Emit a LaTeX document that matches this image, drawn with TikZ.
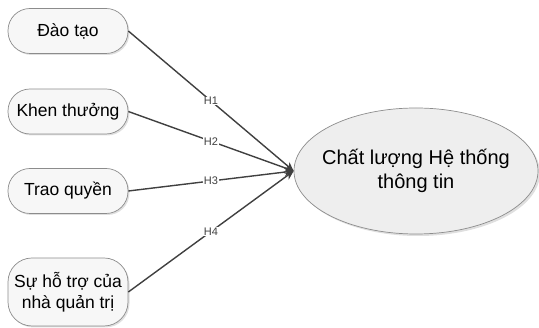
\documentclass[tikz,border=0pt]{standalone}
\usepackage{fontspec}
\setmainfont{Liberation Sans}
\usetikzlibrary{arrows.meta,shadows,shapes.geometric}
\definecolor{edgegray}{HTML}{8C8C8C}
\definecolor{linegray}{HTML}{404040}
\definecolor{boxfill}{HTML}{F7F7F7}
\definecolor{ellfill}{HTML}{EEEEEE}
\tikzset{
  factor/.style={draw=edgegray, line width=0.7pt, fill=boxfill, rounded corners=22pt,
    minimum width=120pt, minimum height=45pt, align=center, inner sep=1pt,
    font=\fontsize{17.5}{21}\selectfont,
    drop shadow={shadow xshift=1.5pt, shadow yshift=-1.5pt, opacity=0.25}},
  outcome/.style={draw=edgegray, line width=0.7pt, fill=ellfill, ellipse,
    inner xsep=-30pt, inner ysep=0pt,
    minimum width=244pt, minimum height=126pt, align=center,
    font=\fontsize{20}{24}\selectfont,
    drop shadow={shadow xshift=2pt, shadow yshift=-2pt, opacity=0.25}},
  link/.style={draw=linegray, line width=1.4pt, -{Stealth[length=9pt,width=8pt]}},
  hlabel/.style={fill=white, inner sep=0.5pt, font=\fontsize{11}{12}\selectfont, text=linegray}
}
\begin{document}
\begin{tikzpicture}[x=1pt,y=-1pt]
\useasboundingbox (0,0) rectangle (539,328);
\node[factor] (dt) at (68,31) {Đào tạo};
\node[factor] (kt) at (68,111.5) {Khen thưởng};
\node[factor] (tq) at (68,191) {Trao quyền};
\node[factor, minimum height=68pt, rounded corners=24pt] (ht) at (68,292) {Sự hỗ trợ của\\nhà quản trị};
\node[outcome] (cl) at (416,171) {Chất lượng Hệ thống\\thông tin};
\coordinate (tip) at (cl.west);
\draw[link] (dt.east) -- node[hlabel, pos=0.5] {H1} (tip);
\draw[link] (kt.east) -- node[hlabel, pos=0.5] {H2} (tip);
\draw[link] (tq.east) -- node[hlabel, pos=0.5] {H3} (tip);
\draw[link] (ht.east) -- node[hlabel, pos=0.5] {H4} (tip);
\end{tikzpicture}
\end{document}
